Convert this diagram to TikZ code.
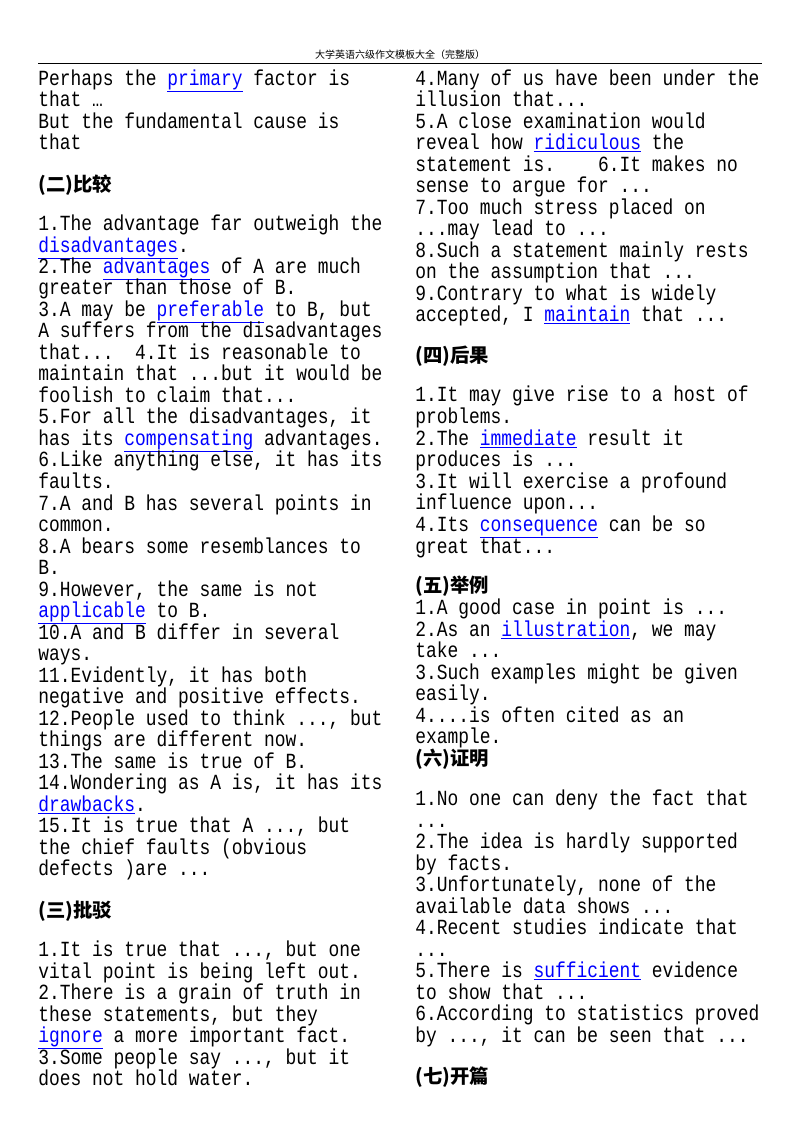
\documentclass[tikz,border=0pt]{standalone}
\usepackage{fontspec}
\setmainfont[FakeStretch=0.83]{Liberation Mono}
\newfontfamily\cjk{Noto Sans CJK SC}
\definecolor{lk}{RGB}{0,0,255}
\newcommand\lk[1]{{\color{lk}\underline{#1}}}
\newcommand\tx[3]{\node[txt] at (#1,#2) {#3};}
\newcommand\hd[3]{\node[hdg] at (#1,#2) {#3};}
\begin{document}
\begin{tikzpicture}[x=0.75pt,y=-0.75pt,
 txt/.style={anchor=west,inner sep=0pt,text height=8pt,text depth=0pt,font=\fontsize{16.2pt}{18pt}\selectfont},
 hdg/.style={anchor=west,inner sep=0pt,text height=8pt,text depth=0pt,font=\cjk\bfseries\fontsize{14.5pt}{16pt}\selectfont}]
\useasboundingbox (0,0) rectangle (800,1132);
\fill[white] (0,0) rectangle (800,1132);
\node[font=\cjk\fontsize{7.5pt}{9pt}\selectfont] (hdr) at (400,55) {大学英语六级作文模板大全（完整版）};
\draw[line width=0.6pt] (38,63) -- (762,63);
% left column
\def\a{38}
\tx{\a}{80}{Perhaps the \lk{primary} factor is}
\tx{\a}{101}{that …}
\tx{\a}{123}{But the fundamental cause is}
\tx{\a}{144}{that}
\hd{\a}{186}{(二)比较}
\tx{\a}{225}{1.The advantage far outweigh the}
\tx{\a}{247}{\lk{disadvantages}.}
\tx{\a}{268}{2.The \lk{advantages} of A are much}
\tx{\a}{289}{greater than those of B.}
\tx{\a}{311}{3.A may be \lk{preferable} to B, but}
\tx{\a}{332}{A suffers from the disadvantages}
\tx{\a}{354}{that...~~4.It is reasonable to}
\tx{\a}{375}{maintain that ...but it would be}
\tx{\a}{397}{foolish to claim that...}
\tx{\a}{418}{5.For all the disadvantages, it}
\tx{\a}{440}{has its \lk{compensating} advantages.}
\tx{\a}{461}{6.Like anything else, it has its}
\tx{\a}{483}{faults.}
\tx{\a}{505}{7.A and B has several points in}
\tx{\a}{526}{common.}
\tx{\a}{548}{8.A bears some resemblances to}
\tx{\a}{569}{B.}
\tx{\a}{591}{9.However, the same is not}
\tx{\a}{612}{\lk{applicable} to B.}
\tx{\a}{634}{10.A and B differ in several}
\tx{\a}{655}{ways.}
\tx{\a}{677}{11.Evidently, it has both}
\tx{\a}{698}{negative and positive effects.}
\tx{\a}{720}{12.People used to think ..., but}
\tx{\a}{741}{things are different now.}
\tx{\a}{763}{13.The same is true of B.}
\tx{\a}{784}{14.Wondering as A is, it has its}
\tx{\a}{806}{\lk{drawbacks}.}
\tx{\a}{827}{15.It is true that A ..., but}
\tx{\a}{849}{the chief faults (obvious}
\tx{\a}{870}{defects )are ...}
\hd{\a}{912}{(三)批驳}
\tx{\a}{951}{1.It is true that ..., but one}
\tx{\a}{973}{vital point is being left out.}
\tx{\a}{994}{2.There is a grain of truth in}
\tx{\a}{1016}{these statements, but they}
\tx{\a}{1037}{\lk{ignore} a more important fact.}
\tx{\a}{1059}{3.Some people say ..., but it}
\tx{\a}{1080}{does not hold water.}
% right column
\def\b{415}
\tx{\b}{80}{4.Many of us have been under the}
\tx{\b}{101}{illusion that...}
\tx{\b}{123}{5.A close examination would}
\tx{\b}{144}{reveal how \lk{ridiculous} the}
\tx{\b}{166}{statement is.~~~~6.It makes no}
\tx{\b}{187}{sense to argue for ...}
\tx{\b}{209}{7.Too much stress placed on}
\tx{\b}{230}{...may lead to ...}
\tx{\b}{252}{8.Such a statement mainly rests}
\tx{\b}{273}{on the assumption that ...}
\tx{\b}{295}{9.Contrary to what is widely}
\tx{\b}{316}{accepted, I \lk{maintain} that ...}
\hd{\b}{357}{(四)后果}
\tx{\b}{396}{1.It may give rise to a host of}
\tx{\b}{418}{problems.}
\tx{\b}{440}{2.The \lk{immediate} result it}
\tx{\b}{461}{produces is ...}
\tx{\b}{483}{3.It will exercise a profound}
\tx{\b}{504}{influence upon...}
\tx{\b}{526}{4.Its \lk{consequence} can be so}
\tx{\b}{548}{great that...}
\hd{\b}{587}{(五)举例}
\tx{\b}{609}{1.A good case in point is ...}
\tx{\b}{631}{2.As an \lk{illustration}, we may}
\tx{\b}{652}{take ...}
\tx{\b}{674}{3.Such examples might be given}
\tx{\b}{695}{easily.}
\tx{\b}{717}{4....is often cited as an}
\tx{\b}{738}{example.}
\hd{\b}{760}{(六)证明}
\tx{\b}{800}{1.No one can deny the fact that}
\tx{\b}{822}{...}
\tx{\b}{843}{2.The idea is hardly supported}
\tx{\b}{865}{by facts.}
\tx{\b}{886}{3.Unfortunately, none of the}
\tx{\b}{908}{available data shows ...}
\tx{\b}{929}{4.Recent studies indicate that}
\tx{\b}{951}{...}
\tx{\b}{972}{5.There is \lk{sufficient} evidence}
\tx{\b}{994}{to show that ...}
\tx{\b}{1015}{6.According to statistics proved}
\tx{\b}{1037}{by ..., it can be seen that ...}
\hd{\b}{1078}{(七)开篇}
\end{tikzpicture}
\end{document}
